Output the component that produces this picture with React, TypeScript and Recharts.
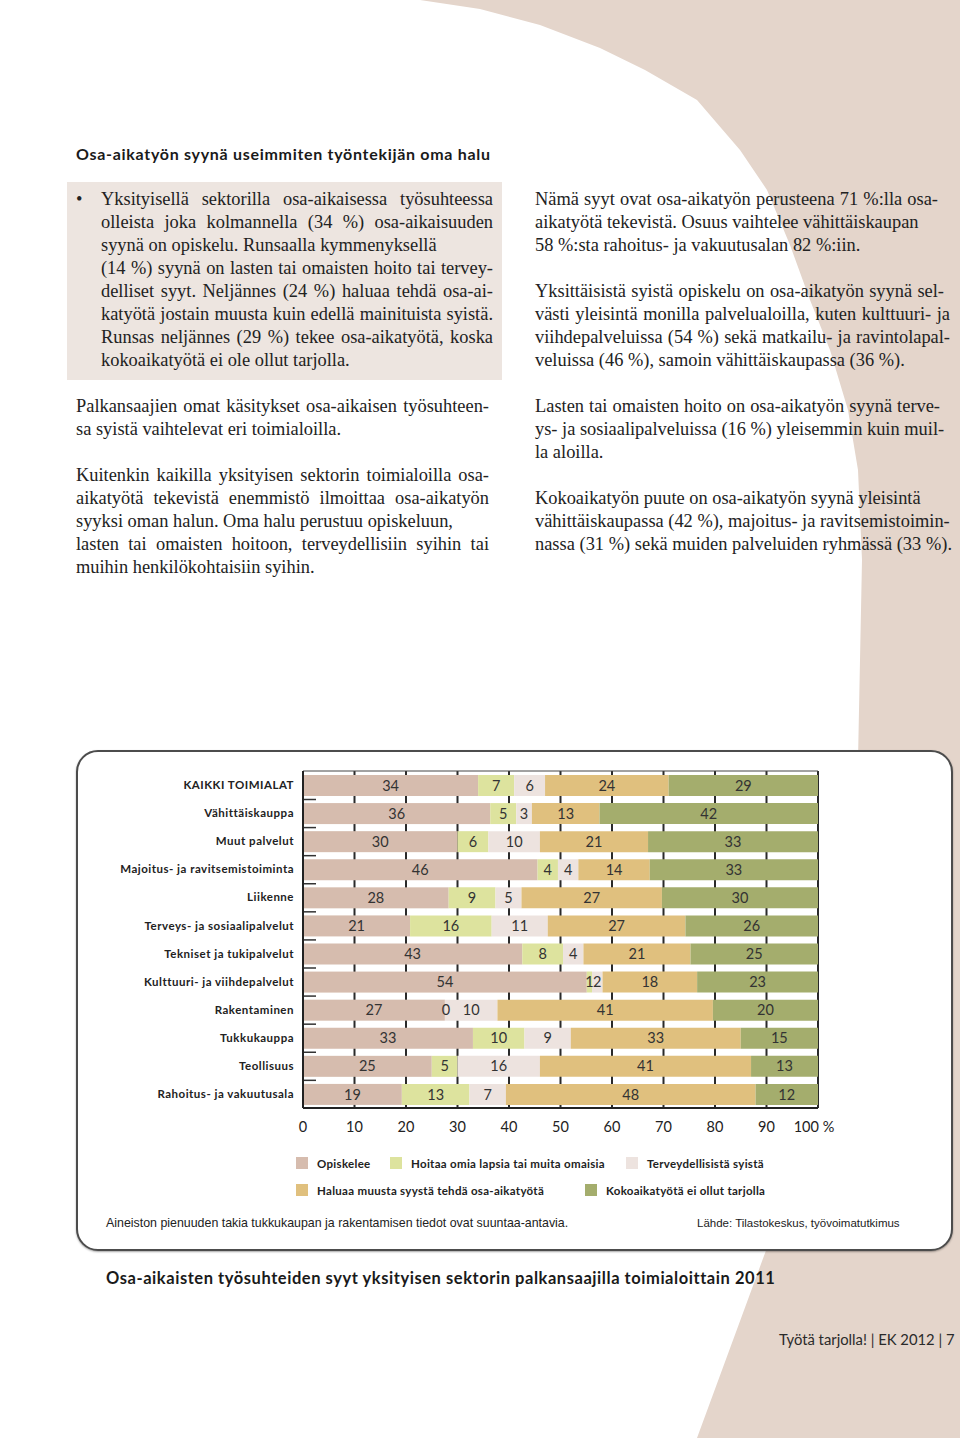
import React from 'react'
import { BarChart, Bar, XAxis, YAxis, CartesianGrid, LabelList, ReferenceLine } from 'recharts'

const categories = [
  'KAIKKI TOIMIALAT',
  'Vähittäiskauppa',
  'Muut palvelut',
  'Majoitus- ja ravitsemistoiminta',
  'Liikenne',
  'Terveys- ja sosiaalipalvelut',
  'Tekniset ja tukipalvelut',
  'Kulttuuri- ja viihdepalvelut',
  'Rakentaminen',
  'Tukkukauppa',
  'Teollisuus',
  'Rahoitus- ja vakuutusala',
]
const opiskelee = [34, 36, 30, 46, 28, 21, 43, 54, 27, 33, 25, 19]
const hoitaa = [7, 5, 6, 4, 9, 16, 8, 1, 0, 10, 5, 13]
const terveys = [6, 3, 10, 4, 5, 11, 4, 2, 10, 9, 16, 7]
const haluaa = [24, 13, 21, 14, 27, 27, 21, 18, 41, 33, 41, 48]
const kokoaika = [29, 42, 33, 33, 30, 26, 25, 23, 20, 15, 13, 12]
const xTicks = [0, 10, 20, 30, 40, 50, 60, 70, 80, 90, 100]

const series = [
  { key: 'opiskelee', name: 'Opiskelee', color: '#d6bcae' },
  { key: 'hoitaa', name: 'Hoitaa omia lapsia tai muita omaisia', color: '#dde39e' },
  { key: 'terveys', name: 'Terveydellisistä syistä', color: '#ede3df' },
  { key: 'haluaa', name: 'Haluaa muusta syystä tehdä osa-aikatyötä', color: '#e0c07e' },
  { key: 'kokoaika', name: 'Kokoaikatyötä ei ollut tarjolla', color: '#a4ad6d' },
]

const data = categories.map((name, i) => ({
  name,
  opiskelee: opiskelee[i],
  hoitaa: hoitaa[i],
  terveys: terveys[i],
  haluaa: haluaa[i],
  kokoaika: kokoaika[i],
}))

const SANS = 'Lato, "Open Sans", sans-serif'
const SERIF = '"Liberation Serif", "DejaVu Serif", serif'
const BEIGE = '#e4d5cb'
const BODY_SIZE = 18.4

// body text, one entry per printed line: [text, x, centerY, width, justify]
type Ln = [string, number, number, number, boolean]
const bodyLines: Ln[] = [
  ['Yksityisellä sektorilla osa-aikaisessa työsuhteessa', 101, 199, 392, true],
  ['olleista joka kolmannella (34 %) osa-aikaisuuden', 101, 222, 392, true],
  ['syynä on opiskelu. Runsaalla kymmenyksellä', 101, 245, 392, false],
  ['(14 %) syynä on lasten tai omaisten hoito tai tervey-', 101, 268, 392, true],
  ['delliset syyt. Neljännes (24 %) haluaa tehdä osa-ai-', 101, 291, 392, true],
  ['katyötä jostain muusta kuin edellä mainituista syistä.', 101, 314, 392, true],
  ['Runsas neljännes (29 %) tekee osa-aikatyötä, koska', 101, 337, 392, true],
  ['kokoaikatyötä ei ole ollut tarjolla.', 101, 360, 392, false],
  ['Palkansaajien omat käsitykset osa-aikaisen työsuhteen-', 76, 406, 413, true],
  ['sa syistä vaihtelevat eri toimialoilla.', 76, 429, 413, false],
  ['Kuitenkin kaikilla yksityisen sektorin toimialoilla osa-', 76, 475, 413, true],
  ['aikatyötä tekevistä enemmistö ilmoittaa osa-aikatyön', 76, 498, 413, true],
  ['syyksi oman halun. Oma halu perustuu opiskeluun,', 76, 521, 413, false],
  ['lasten tai omaisten hoitoon, terveydellisiin syihin tai', 76, 544, 413, true],
  ['muihin henkilökohtaisiin syihin.', 76, 567, 413, false],
  ['Nämä syyt ovat osa-aikatyön perusteena 71 %:lla osa-', 535, 199, 403, true],
  ['aikatyötä tekevistä. Osuus vaihtelee vähittäiskaupan', 535, 222, 415, false],
  ['58 %:sta rahoitus- ja vakuutusalan 82 %:iin.', 535, 245, 415, false],
  ['Yksittäisistä syistä opiskelu on osa-aikatyön syynä sel-', 535, 291, 409, true],
  ['västi yleisintä monilla palvelualoilla, kuten kulttuuri- ja', 535, 314, 415, true],
  ['viihdepalveluissa (54 %) sekä matkailu- ja ravintolapal-', 535, 337, 415, true],
  ['veluissa (46 %), samoin vähittäiskaupassa (36 %).', 535, 360, 415, false],
  ['Lasten tai omaisten hoito on osa-aikatyön syynä terve-', 535, 406, 405, true],
  ['ys- ja sosiaalipalveluissa (16 %) yleisemmin kuin muil-', 535, 429, 409, true],
  ['la aloilla.', 535, 452, 415, false],
  ['Kokoaikatyön puute on osa-aikatyön syynä yleisintä', 535, 498, 415, false],
  ['vähittäiskaupassa (42 %), majoitus- ja ravitsemistoimin-', 535, 521, 409, true],
  ['nassa (31 %) sekä muiden palveluiden ryhmässä (33 %).', 535, 544, 417, true],
]

const legendPos = [
  { left: 296, top: 1163 },
  { left: 390, top: 1163 },
  { left: 626, top: 1163 },
  { left: 296, top: 1190 },
  { left: 585, top: 1190 },
]

const chartProps = {
  width: 877,
  height: 388,
  data,
  layout: 'vertical' as const,
  stackOffset: 'expand' as const,
  barSize: 21,
  margin: { top: 21, right: 135, left: 7, bottom: 0 },
}

function FirstBar(props: any) {
  const { x, y, width, height, fill, index } = props
  return (
    <g>
      <rect x={x} y={y} width={width} height={height} fill={fill} />
      {index < categories.length - 1 && (
        <line x1={x} x2={x + 13} y1={y + height + 3.5} y2={y + height + 3.5} stroke="#333" strokeWidth={1.5} />
      )}
    </g>
  )
}

function XTick(props: any) {
  const { x, y, payload, index } = props
  const last = index === xTicks.length - 1
  return (
    <text x={last ? x - 4 : x} y={y} dy="0.71em" textAnchor="middle" fill="#222" fontSize={14.5} fontFamily={SANS}>
      {last ? '100 %' : Math.round(payload.value * 100)}
    </text>
  )
}

export default function App() {
  return (
    <div style={{ position: 'absolute', left: 0, top: 0, width: 960, height: 1438, overflow: 'hidden', background: '#fff' }}>
      <svg width={960} height={1438} style={{ position: 'absolute', left: 0, top: 0 }}>
        <path
          d="M 420 0 L 960 0 L 960 1438 L 697 1438 L 768 1245 L 940 1245 L 940 760 L 858 760 L 862 560 L 858 470 L 848 410 L 830 350 L 810 300 L 790 245 L 767 190 L 740 150 L 697 100 L 645 70 L 600 48 L 540 25 L 480 9 Z"
          fill={BEIGE}
        />
      </svg>

      <div style={{ position: 'absolute', left: 76, top: 144, fontFamily: SANS, fontWeight: 700, fontSize: 16, letterSpacing: 0.7, color: '#1a1a1a', whiteSpace: 'nowrap' }}>
        Osa-aikatyön syynä useimmiten työntekijän oma halu
      </div>

      <div style={{ position: 'absolute', left: 67, top: 182, width: 435, height: 198, background: '#ede5e0' }} />
      <div style={{ position: 'absolute', left: 76, top: 187.5, fontFamily: SERIF, fontSize: BODY_SIZE, lineHeight: '23px', color: '#222' }}>•</div>

      {bodyLines.map(([t, x, cy, w, j], i) => (
        <div
          key={i}
          style={{
            position: 'absolute',
            left: x,
            top: cy - 11.5,
            width: w,
            height: 23,
            lineHeight: '23px',
            fontFamily: SERIF,
            fontSize: BODY_SIZE,
            color: '#222',
            whiteSpace: 'nowrap',
            textAlign: j ? 'justify' : 'left',
            textAlignLast: j ? 'justify' : 'left',
          }}
        >
          {t}
        </div>
      ))}

      <div
        style={{
          position: 'absolute',
          left: 76,
          top: 750,
          width: 877,
          height: 501,
          boxSizing: 'border-box',
          border: '2px solid #4c4c4c',
          borderRadius: 22,
          background: '#fff',
          boxShadow: '0 1px 2px rgba(0,0,0,0.35)',
        }}
      />

      <div style={{ position: 'absolute', left: 76, top: 750 }}>
        <BarChart {...chartProps}>
          <CartesianGrid horizontal={false} stroke="#2a2a2a" strokeWidth={2} />
          <XAxis
            type="number"
            domain={[0, 1]}
            ticks={xTicks.map((v) => v / 100)}
            height={30}
            tickLine={false}
            tickSize={6}
            tickMargin={8}
            axisLine={{ stroke: '#222', strokeWidth: 2 }}
            tick={<XTick />}
          />
          <YAxis
            type="category"
            dataKey="name"
            width={220}
            tickLine={false}
            tickSize={0}
            tickMargin={9}
            axisLine={{ stroke: '#222', strokeWidth: 2 }}
            tick={{ fill: '#222', fontSize: 11.5, fontWeight: 700, fontFamily: SANS, letterSpacing: 0.5 }}
          />
          <ReferenceLine y={categories[0]} position="start" stroke="#444" strokeWidth={1} />
          {series.map((s, i) => (
            <Bar
              key={s.key}
              dataKey={s.key}
              name={s.name}
              stackId="a"
              fill={s.color}
              isAnimationActive={false}
              shape={i === 0 ? <FirstBar /> : undefined}
            />
          ))}
        </BarChart>
      </div>

      {/* same stack again, transparent, so every value label sits above all segments */}
      <div style={{ position: 'absolute', left: 76, top: 750 }}>
        <BarChart {...chartProps}>
          <XAxis type="number" domain={[0, 1]} height={30} tick={false} tickLine={false} axisLine={false} />
          <YAxis type="category" dataKey="name" width={220} tick={false} tickLine={false} axisLine={false} />
          {series.map((s) => (
            <Bar key={s.key} dataKey={s.key} stackId="a" fill="transparent" minPointSize={2} isAnimationActive={false}>
              <LabelList dataKey={s.key} position="center" fill="#333" fontSize={14.5} fontFamily={SANS} />
            </Bar>
          ))}
        </BarChart>
      </div>

      {series.map((s, i) => (
        <div
          key={s.key}
          style={{ position: 'absolute', left: legendPos[i].left, top: legendPos[i].top - 7, height: 14, display: 'flex', alignItems: 'center', whiteSpace: 'nowrap' }}
        >
          <span style={{ display: 'inline-block', width: 12, height: 12, background: s.color, marginRight: 9 }} />
          <span style={{ fontFamily: SANS, fontWeight: 700, fontSize: 11.5, letterSpacing: 0.3, color: '#222' }}>{s.name}</span>
        </div>
      ))}

      <div style={{ position: 'absolute', left: 106, top: 1216, fontFamily: '"Liberation Sans", Arial, sans-serif', fontSize: 12.4, color: '#222', whiteSpace: 'nowrap' }}>
        Aineiston pienuuden takia tukkukaupan ja rakentamisen tiedot ovat suuntaa-antavia.
      </div>
      <div style={{ position: 'absolute', left: 697, top: 1217, fontFamily: '"Liberation Sans", Arial, sans-serif', fontSize: 11.5, color: '#222', whiteSpace: 'nowrap' }}>
        Lähde: Tilastokeskus, työvoimatutkimus
      </div>

      <div style={{ position: 'absolute', left: 106, top: 1268, fontFamily: SANS, fontWeight: 700, fontSize: 16.5, letterSpacing: 0.55, color: '#1a1a1a', whiteSpace: 'nowrap' }}>
        Osa-aikaisten työsuhteiden syyt yksityisen sektorin palkansaajilla toimialoittain 2011
      </div>

      <div style={{ position: 'absolute', left: 779, top: 1330, fontFamily: SANS, fontSize: 14.8, color: '#2a2a2a', whiteSpace: 'nowrap' }}>
        Työtä tarjolla! | EK 2012 | 7
      </div>
    </div>
  )
}
